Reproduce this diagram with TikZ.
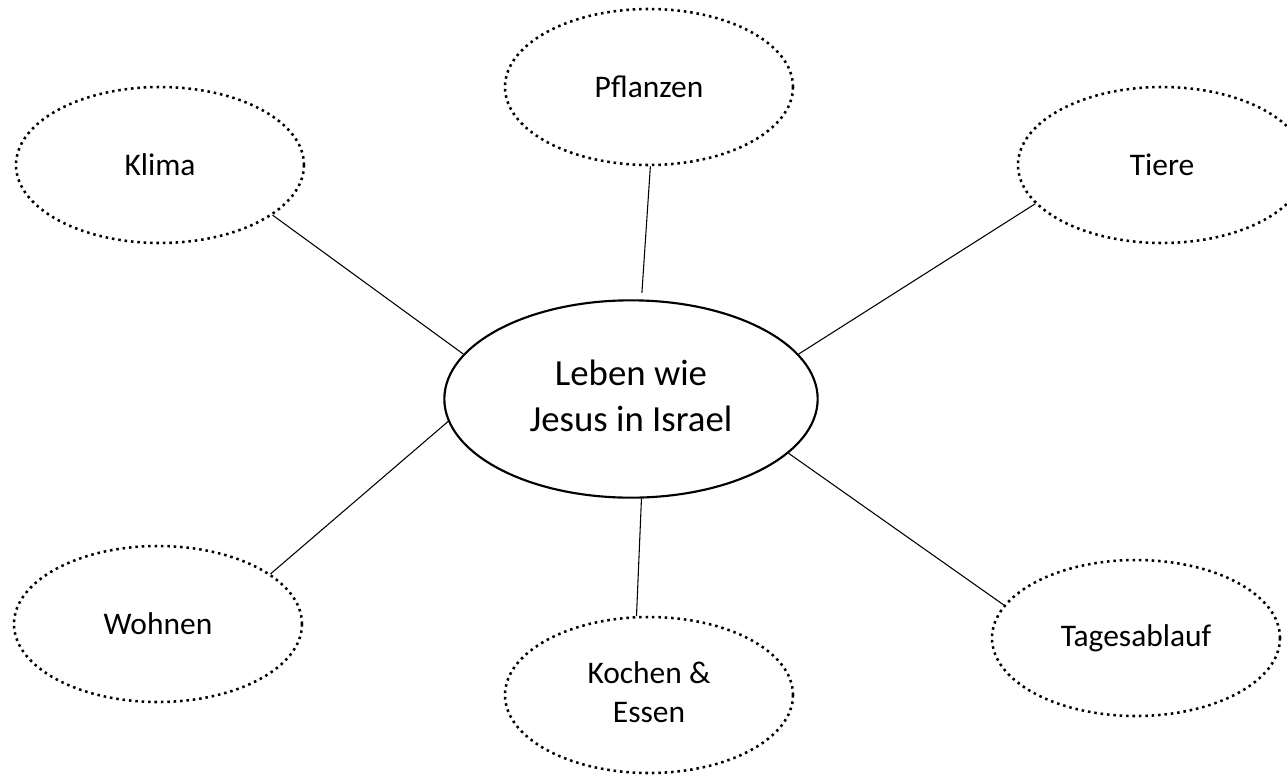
\documentclass[tikz,border=0pt]{standalone}
\usepackage{fontspec}
\setmainfont{Carlito}
\usepackage{tikz}
\usetikzlibrary{%
  calc,%
  shapes.geometric,%
  positioning}

\begin{document}
\begin{tikzpicture}[x=0.75pt,y=-0.75pt,
  theme/.style={ellipse,draw,line width=1.9pt,dash pattern=on 1.9pt off 2.9pt,
    minimum width=216pt,minimum height=117pt,inner sep=0pt,
    font=\fontsize{23.6}{29}\selectfont},
  centre/.style={ellipse,draw,line width=1.6pt,
    minimum width=280pt,minimum height=148pt,inner sep=0pt,
    font=\fontsize{27.6}{34.5}\selectfont},
  link/.style={line width=0.8pt}]
\useasboundingbox (0,0) rectangle (1287,774);
% description et nommage des noeuds
\node (L) at (631,399) [centre] {\begin{tabular}{c}Leben wie\\Jesus in Israel\end{tabular}};
\node (K) at (160,165) [theme] {Klima};
\node (P) at (649,87) [theme] {Pflanzen};
\node (T) at (1162,165) [theme] {Tiere};
\node (W) at (158,624) [theme] {Wohnen};
\node (KE) at (649,695) [theme] {\begin{tabular}{c}Kochen \&\\Essen\end{tabular}};
\node (TA) at (1136,638) [theme] {Tagesablauf};
\draw[link] (K.-24) -- (L.165);
\draw[link,shorten >=5pt] (P.-89) -- (L.84);
\draw[link] (T.-163) -- (L.15);
\draw[link] (W.24) -- (L.-173);
\draw[link] (KE.99) -- (L.-84);
\draw[link] (TA.166) -- (L.-19);
\end{tikzpicture}
\end{document}
